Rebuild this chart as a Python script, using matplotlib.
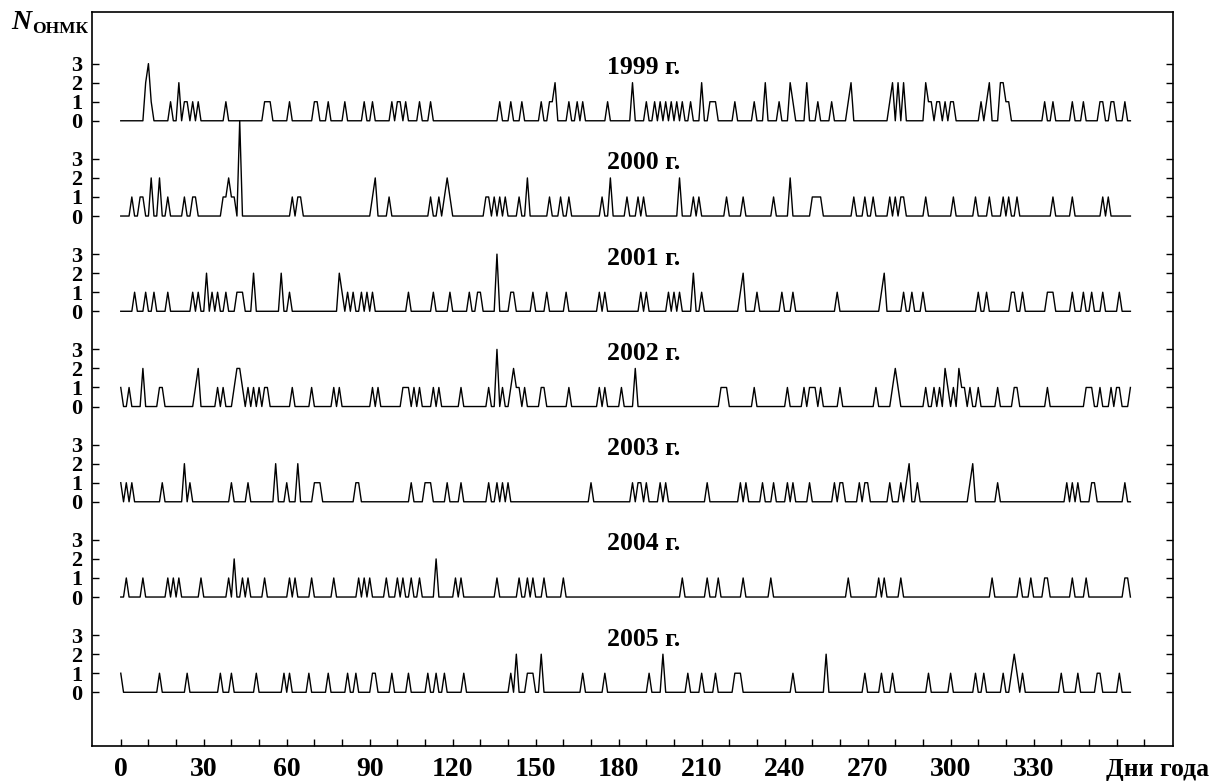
#!/usr/bin/env python
# -*- coding: utf-8 -*-

#!------------------------------------------------------------------------------
#!                                   MODULES
#!------------------------------------------------------------------------------
import numpy
import matplotlib
matplotlib.use("Agg")
from matplotlib import pyplot as plt

plt.rcParams['font.family'] = ['Liberation Serif', 'DejaVu Serif']
plt.rcParams['font.weight'] = 'bold'

#!------------------------------------------------------------------------------
#!                                    DATA
#!------------------------------------------------------------------------------
# daily number of cases (day of year: count), days not listed are zero
y1999 = {9: 2, 10: 3, 11: 1, 18: 1, 21: 2, 23: 1, 24: 1, 26: 1, 28: 1, 38: 1,
         52: 1, 53: 1, 54: 1, 61: 1, 70: 1, 71: 1, 75: 1, 81: 1, 88: 1, 91: 1,
         98: 1, 100: 1, 101: 1, 103: 1, 108: 1, 112: 1, 137: 1, 141: 1,
         145: 1, 152: 1, 155: 1, 156: 1, 157: 2, 162: 1, 165: 1, 167: 1,
         176: 1, 185: 2, 190: 1, 193: 1, 195: 1, 197: 1, 199: 1, 201: 1,
         203: 1, 206: 1, 210: 2, 213: 1, 214: 1, 215: 1, 222: 1, 229: 1,
         233: 2, 238: 1, 242: 2, 243: 1, 248: 2, 252: 1, 257: 1, 263: 1,
         264: 2, 278: 1, 279: 2, 281: 2, 283: 2, 291: 2, 292: 1, 293: 1,
         295: 1, 296: 1, 298: 1, 300: 1, 301: 1, 311: 1, 313: 1, 314: 2,
         318: 2, 319: 2, 320: 1, 321: 1, 334: 1, 337: 1, 344: 1, 348: 1,
         354: 1, 355: 1, 358: 1, 359: 1, 363: 1}
y2000 = {4: 1, 7: 1, 8: 1, 11: 2, 14: 2, 17: 1, 23: 1, 26: 1, 27: 1, 37: 1,
         38: 1, 39: 2, 40: 1, 41: 1, 43: 5, 62: 1, 64: 1, 65: 1, 91: 1, 92: 2,
         97: 1, 112: 1, 115: 1, 117: 1, 118: 2, 119: 1, 132: 1, 133: 1,
         135: 1, 137: 1, 139: 1, 144: 1, 147: 2, 155: 1, 159: 1, 162: 1,
         174: 1, 177: 2, 183: 1, 187: 1, 189: 1, 202: 2, 207: 1, 209: 1,
         219: 1, 225: 1, 236: 1, 242: 2, 250: 1, 251: 1, 252: 1, 253: 1,
         265: 1, 269: 1, 272: 1, 278: 1, 280: 1, 282: 1, 283: 1, 291: 1,
         301: 1, 309: 1, 314: 1, 319: 1, 321: 1, 324: 1, 337: 1, 344: 1,
         355: 1, 357: 1}
y2001 = {5: 1, 9: 1, 12: 1, 17: 1, 26: 1, 28: 1, 31: 2, 33: 1, 35: 1, 38: 1,
         42: 1, 43: 1, 44: 1, 48: 2, 58: 2, 61: 1, 79: 2, 80: 1, 82: 1, 84: 1,
         87: 1, 89: 1, 91: 1, 104: 1, 113: 1, 119: 1, 126: 1, 129: 1, 130: 1,
         136: 3, 141: 1, 142: 1, 149: 1, 154: 1, 161: 1, 173: 1, 175: 1,
         188: 1, 190: 1, 198: 1, 200: 1, 202: 1, 207: 2, 210: 1, 224: 1,
         225: 2, 230: 1, 239: 1, 243: 1, 259: 1, 275: 1, 276: 2, 283: 1,
         286: 1, 290: 1, 310: 1, 313: 1, 322: 1, 323: 1, 326: 1, 335: 1,
         336: 1, 337: 1, 344: 1, 348: 1, 351: 1, 355: 1, 361: 1}
y2002 = {0: 1, 3: 1, 8: 2, 14: 1, 15: 1, 27: 1, 28: 2, 35: 1, 37: 1, 41: 1,
         42: 2, 43: 2, 44: 1, 46: 1, 48: 1, 50: 1, 52: 1, 53: 1, 62: 1, 69: 1,
         77: 1, 79: 1, 91: 1, 93: 1, 102: 1, 103: 1, 104: 1, 106: 1, 108: 1,
         113: 1, 115: 1, 123: 1, 133: 1, 136: 3, 138: 1, 141: 1, 142: 2,
         143: 1, 144: 1, 146: 1, 152: 1, 153: 1, 162: 1, 173: 1, 175: 1,
         181: 1, 186: 2, 217: 1, 218: 1, 219: 1, 229: 1, 241: 1, 247: 1,
         249: 1, 250: 1, 251: 1, 253: 1, 260: 1, 273: 1, 279: 1, 280: 2,
         281: 1, 291: 1, 294: 1, 296: 1, 298: 2, 299: 1, 301: 1, 303: 2,
         304: 1, 305: 1, 307: 1, 310: 1, 317: 1, 323: 1, 324: 1, 335: 1,
         349: 1, 350: 1, 351: 1, 354: 1, 358: 1, 360: 1, 361: 1, 365: 1}
y2003 = {0: 1, 2: 1, 4: 1, 15: 1, 23: 2, 25: 1, 40: 1, 46: 1, 56: 2, 60: 1,
         64: 2, 70: 1, 71: 1, 72: 1, 85: 1, 86: 1, 105: 1, 110: 1, 111: 1,
         112: 1, 118: 1, 123: 1, 133: 1, 136: 1, 138: 1, 140: 1, 170: 1,
         185: 1, 187: 1, 188: 1, 190: 1, 195: 1, 197: 1, 212: 1, 224: 1,
         226: 1, 232: 1, 236: 1, 241: 1, 243: 1, 249: 1, 258: 1, 260: 1,
         261: 1, 267: 1, 269: 1, 270: 1, 278: 1, 282: 1, 284: 1, 285: 2,
         288: 1, 307: 1, 308: 2, 317: 1, 342: 1, 344: 1, 346: 1, 351: 1,
         352: 1, 363: 1}
y2004 = {2: 1, 8: 1, 17: 1, 19: 1, 21: 1, 29: 1, 39: 1, 41: 2, 44: 1, 46: 1,
         52: 1, 61: 1, 63: 1, 69: 1, 77: 1, 86: 1, 88: 1, 90: 1, 96: 1,
         100: 1, 102: 1, 105: 1, 108: 1, 114: 2, 121: 1, 123: 1, 136: 1,
         144: 1, 147: 1, 149: 1, 153: 1, 160: 1, 203: 1, 212: 1, 216: 1,
         225: 1, 235: 1, 263: 1, 274: 1, 276: 1, 282: 1, 315: 1, 325: 1,
         329: 1, 334: 1, 335: 1, 344: 1, 349: 1, 363: 1, 364: 1}
y2005 = {0: 1, 14: 1, 24: 1, 36: 1, 40: 1, 49: 1, 59: 1, 61: 1, 68: 1, 75: 1,
         82: 1, 85: 1, 91: 1, 92: 1, 98: 1, 104: 1, 111: 1, 114: 1, 117: 1,
         124: 1, 141: 1, 143: 2, 147: 1, 148: 1, 149: 1, 152: 2, 167: 1,
         175: 1, 191: 1, 196: 2, 205: 1, 210: 1, 215: 1, 222: 1, 223: 1,
         224: 1, 243: 1, 255: 2, 269: 1, 275: 1, 279: 1, 292: 1, 300: 1,
         309: 1, 312: 1, 319: 1, 322: 1, 323: 2, 324: 1, 326: 1, 340: 1,
         346: 1, 353: 1, 354: 1, 361: 1}

years = ["1999", "2000", "2001", "2002", "2003", "2004", "2005"]
series = [y1999, y2000, y2001, y2002, y2003, y2004, y2005]
y_labels = ["0", "1", "2", "3"]
x_labels = ["0", "30", "60", "90", "120", "150", "180", "210", "240", "270",
            "300", "330"]

#!------------------------------------------------------------------------------
#!                             FUNCTION DEFINITION
#!------------------------------------------------------------------------------
def to_daily(events, ndays=366):
    v = numpy.zeros(ndays)
    for d, n in events.items():
        v[d] = n
    return v


def plot_strokes():
    fig = plt.figure(figsize=(12.2, 7.84), dpi=100)
    ax = fig.add_axes([92/1220, 38/784, 1081/1220, 734/784])

    step = 5.0
    days = numpy.arange(366)
    yt, ytl = [], []
    for i, (yr, ev) in enumerate(zip(years, series)):
        base = (len(years) - 1 - i) * step
        ax.plot(days, to_daily(ev) + base, color="black", lw=1.0)
        ax.text(189, base + 2.45, yr + " г.", ha="center", va="baseline",
                fontsize=18.5)
        for k, lab in enumerate(y_labels):
            yt.append(base + k)
            ytl.append(lab)

    ax.set_xlim(-10.4, 380.4)
    ax.set_ylim(-2.82, 35.71)

    xt = numpy.arange(0, 371, 10)
    ax.set_xticks(xt)
    ax.set_xticklabels([x_labels[t // 30] if (t % 30 == 0 and t <= 330)
                        else "" for t in xt])
    ax.set_yticks(yt)
    ax.set_yticklabels(ytl)
    ax.tick_params(axis="x", direction="in", length=5, width=1, pad=8,
                   labelsize=20)
    ax.tick_params(axis="y", direction="in", length=5, width=1, pad=7,
                   labelsize=16)
    ax.tick_params(axis="y", right=True)
    for s in ax.spines.values():
        s.set_linewidth(1.2)

    fig.text(1209/1220, 8/784, "Дни года", ha="right", va="baseline",
             fontsize=18.5)
    fig.text(11/1220, 1 - 29/784, "N", ha="left", va="baseline",
             fontsize=20, style="italic")
    fig.text(32/1220, 1 - 33/784, "ОНМК", ha="left", va="baseline",
             fontsize=12.5)

    fig.savefig("out.png", dpi=100)

#!------------------------------------------------------------------------------
#!                                MAIN FUNCTION
#!------------------------------------------------------------------------------
def main():
    plot_strokes()


if __name__ == '__main__':
    main()
